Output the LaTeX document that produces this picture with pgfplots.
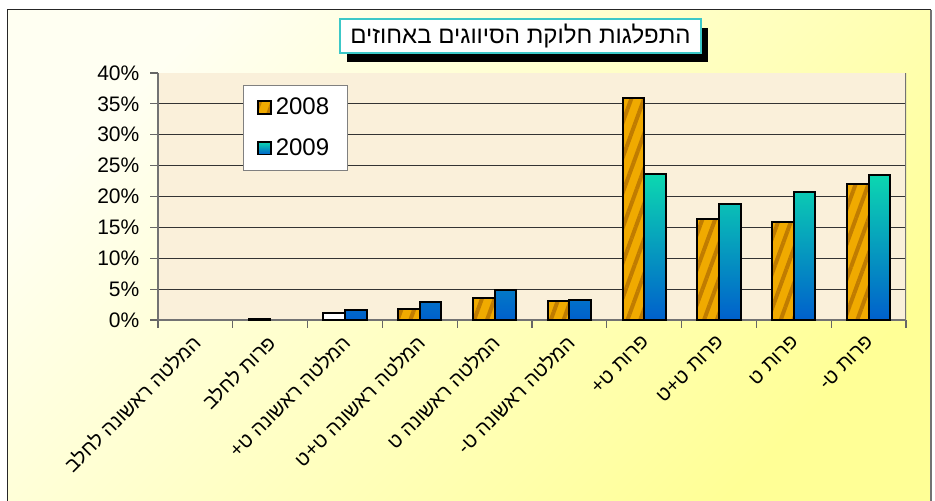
\documentclass[border=0pt]{standalone}
\usepackage{fontspec}
\usepackage{pgfplots}
\pgfplotsset{compat=1.18}
\usetikzlibrary{patterns.meta}
\setmainfont{Liberation Sans}
\newfontfamily\hebfont[Script=Hebrew]{Liberation Sans}
\TeXXeTstate=1
\definecolor{gold}{RGB}{240,170,0}
\definecolor{golddark}{RGB}{192,124,0}
\definecolor{tealtop}{RGB}{12,216,176}
\definecolor{cyanmid}{RGB}{36,208,232}
\definecolor{bluebot}{RGB}{0,96,204}
\definecolor{beige}{RGB}{250,240,218}
\definecolor{cyanborder}{RGB}{60,200,200}
\definecolor{bgtop}{RGB}{255,255,242}
\definecolor{bgbot}{RGB}{255,255,150}

\pgfplotstableread{
x y
1 0.1
3 1.8
4 3.5
5 3.0
6 36.0
7 16.4
8 15.8
9 22.0
}\dataA
\pgfplotstableread{
x y
2 1.7
3 2.9
4 4.9
5 3.2
6 23.7
7 18.8
8 20.8
9 23.5
}\dataB
\pgfplotstableread{
x y
2 1.1
}\dataW

\begin{document}
\begin{tikzpicture}
\path[use as bounding box] (-79pt,-90pt) rectangle (388.5pt,160pt);
\fill[white] (-79pt,-90pt) rectangle (388.5pt,160pt);
\shade[top color=bgtop, bottom color=bgbot, shading angle=45] (-75.25pt,-92pt) rectangle (386.5pt,155.25pt);
\draw[black!85, line width=0.6pt] (-75.25pt,-92pt) -- (-75.25pt,155.25pt) -- (386.5pt,155.25pt);
\draw[black!55, line width=0.8pt] (386.5pt,155.25pt) -- (386.5pt,-92pt);
\begin{axis}[
  at={(0pt,0pt)}, anchor=south west,
  scale only axis, width=374pt, height=123.5pt,
  xmin=-0.5, xmax=9.5, ymin=0, ymax=40,
  axis background/.style={fill=beige},
  axis x line*=bottom, axis y line*=left,
  axis line style={black!55, line width=0.6pt},
  ybar, bar width=10.75pt,
  xtick={-0.5,0.5,...,9.5}, xticklabels={},
  extra x ticks={0,...,9},
  extra x tick labels={
    {\hebfont\beginR המלטה ראשונה לחלב\endR},
    {\hebfont\beginR פרות לחלב\endR},
    {\hebfont\beginR המלטה ראשונה ט+\endR},
    {\hebfont\beginR המלטה ראשונה ט+ט\endR},
    {\hebfont\beginR המלטה ראשונה ט\endR},
    {\hebfont\beginR המלטה ראשונה ט-\endR},
    {\hebfont\beginR פרות ט+\endR},
    {\hebfont\beginR פרות ט+ט\endR},
    {\hebfont\beginR פרות ט\endR},
    {\hebfont\beginR פרות ט-\endR}},
  extra x tick style={major tick length=0pt, grid=none,
     tick label style={yshift=-7pt, xshift=3pt, rotate=45, anchor=east, font=\fontsize{10}{12}\selectfont}},
  ytick={0,5,...,35},
  extra y ticks={40}, extra y tick style={grid=none},
  yticklabel={\pgfmathprintnumber{\tick}\%},
  /pgf/number format/assume math mode=true,
  yticklabel style={font=\fontsize{10.5}{12}\selectfont, xshift=-2pt},
  ymajorgrids, grid style={black!80, line width=0.5pt},
  tick align=outside, tick pos=left,
  major tick length=3.8pt,
  tick style={black!60, line width=0.6pt},
  legend style={at={(0.1136,0.951)}, anchor=north west, draw=black!50, fill=white,
     font=\fontsize{12}{14}\selectfont, row sep=6.5pt, inner xsep=7pt, inner ysep=4pt,
     /tikz/every even column/.append style={column sep=1pt}},
  legend image code/.code={\draw[#1, line width=0.8pt] (0pt,-3.2pt) rectangle (6.4pt,3.2pt);},
  legend cell align=left,
]
\addplot[draw=black, line width=1pt, fill=gold, bar shift=-5.375pt,
  postaction={pattern={Lines[angle=70,distance=6pt,line width=2pt]}, pattern color=golddark}]
  table[x=x,y=y]{\dataA};
\addlegendentry{2008}
\addplot[draw=black, line width=1pt, top color=tealtop, middle color=cyanmid, bottom color=bluebot, bar shift=5.375pt]
  table[x=x,y=y]{\dataB};
\addlegendentry{2009}
\addplot[draw=black, line width=1pt, fill=white, bar shift=-5.375pt, forget plot]
  table[x=x,y=y]{\dataW};
\draw[black!55, line width=0.6pt] (rel axis cs:1,0) -- (rel axis cs:1,1);
\end{axis}
\fill[black] (94.5pt,129pt) rectangle (275pt,146pt);
\node[draw=cyanborder, line width=1pt, fill=white, minimum width=180.5pt, minimum height=17pt, inner sep=0pt,
  font=\fontsize{12}{14}\selectfont] at (181.25pt,142pt) {\hebfont\beginR התפלגות חלוקת הסיווגים באחוזים\endR};
\end{tikzpicture}
\end{document}
